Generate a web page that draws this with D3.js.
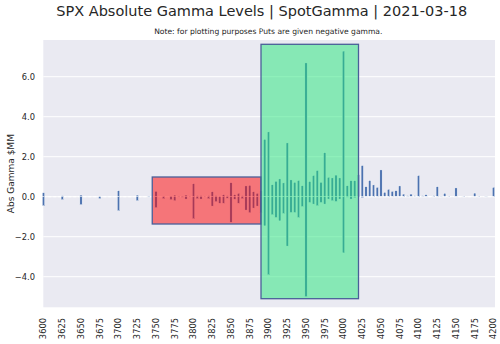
<!DOCTYPE html>
<html>
<head>
<meta charset="utf-8">
<script src="https://cdn.jsdelivr.net/npm/d3@7"></script>
<style>
  html, body { margin: 0; padding: 0; background: #ffffff; }
  svg { display: block; font-family: "DejaVu Sans", sans-serif; }
</style>
</head>
<body>
<svg id="chart" width="500" height="344"></svg>
<script>
// Strike prices and gamma per strike ($MM). Calls positive, puts negative.
const strikes = [
  3600, 3625, 3650, 3675, 3700, 3725, 3740, 3750, 3760, 3770, 3775, 3780, 3785, 3790, 3795,
  3800, 3805, 3810, 3815, 3820, 3825, 3830, 3835, 3840, 3845, 3850, 3855, 3860, 3865, 3870,
  3875, 3880, 3885, 3890, 3895, 3900, 3905, 3910, 3915, 3920, 3925, 3930, 3935, 3940, 3945,
  3950, 3955, 3960, 3965, 3970, 3975, 3980, 3985, 3990, 3995, 4000, 4005, 4010, 4015, 4020,
  4025, 4030, 4035, 4040, 4045, 4050, 4055, 4060, 4065, 4070, 4075, 4080, 4085, 4090, 4095,
  4100, 4105, 4110, 4120, 4125, 4130, 4135, 4140, 4150, 4160, 4175, 4180, 4190, 4200
];
const callGamma = [
  0.20, 0.05, 0.08, 0.02, 0.30, 0.08, 0.02, 0.27, 0.02, 0.03, 0.08, 0.02, 0.03, 0.08, 0.02,
  0.65, 0.05, 0.05, 0.02, 0.05, 0.25, 0.05, 0.02, 0.10, 0.05, 0.70, 0.10, 0.17, 0.05, 0.54,
  0.57, 0.25, 0.17, 0.30, 2.87, 3.24, 0.60, 0.77, 0.89, 0.69, 2.69, 0.84, 0.72, 0.81, 0.55,
  6.69, 0.76, 1.06, 1.31, 0.72, 2.20, 0.97, 0.94, 1.08, 0.94, 7.28, 0.55, 0.80, 0.80, 1.10,
  1.56, 0.50, 0.81, 0.59, 0.47, 1.34, 0.22, 0.37, 0.27, 0.30, 0.54, 0.13, 0.05, 0.13, 0.05,
  1.06, 0.05, 0.10, 0.05, 0.50, 0.03, 0.17, 0.03, 0.44, 0.03, 0.18, 0.03, 0.03, 0.47
];
const putGamma = [
  -0.45, -0.15, -0.40, -0.10, -0.70, -0.20, -0.02, -0.55, -0.10, -0.15, -0.20, -0.02, -0.03, -0.12, -0.02,
  -1.10, -0.10, -0.12, -0.02, -0.10, -0.47, -0.25, -0.33, -0.33, -0.08, -1.28, -0.13, -0.33, -0.10, -0.67,
  -0.80, -0.57, -0.47, -0.80, -1.46, -3.90, -0.90, -1.04, -1.21, -0.84, -2.47, -0.79, -0.79, -1.04, -0.49,
  -5.00, -0.29, -0.37, -0.45, -0.29, -0.37, -0.12, -0.20, -0.24, -0.12, -2.81, -0.03, -0.12, -0.05, -0.02,
  -0.05, -0.01, -0.01, -0.01, -0.01, -0.01, -0.01, -0.01, -0.01, -0.01, -0.01, -0.01, -0.01, -0.01, -0.01,
  -0.01, -0.01, -0.01, -0.01, -0.01, -0.01, -0.01, -0.01, -0.01, -0.01, -0.01, -0.01, -0.01, -0.01
];

// Shaded strike zones: [start strike, end strike, top, bottom]
const putZone = [3745, 3890, 0.985, -1.365];
const callZone = [3890, 4020, 7.62, -5.10];

const xTicks = d3.range(3600, 4201, 25);
const yTicks = [-4, -2, 0, 2, 4, 6];

const titleText = "SPX Absolute Gamma Levels | SpotGamma | 2021-03-18";
const noteText = "Note: for plotting purposes Puts are given negative gamma.";
const yLabel = "Abs Gamma $MM";

const plot = { left: 43.3, right: 495, top: 40, bottom: 307.3 };

const svg = d3.select("#chart");

const x = d3.scaleLinear().domain([3600, 4200]).range([43.5, 493.5]);
const y = d3.scaleLinear().domain([0, 6]).range([196.7, 76.7]);
const barW = 2.3;
const textColor = "#262626";

// Plot background
svg.append("rect")
  .attr("x", plot.left).attr("y", plot.top)
  .attr("width", plot.right - plot.left).attr("height", plot.bottom - plot.top)
  .attr("fill", "#eaeaf2");

// Horizontal grid
svg.append("g").selectAll("line").data(yTicks).join("line")
  .attr("x1", plot.left).attr("x2", plot.right)
  .attr("y1", d => y(d)).attr("y2", d => y(d))
  .attr("stroke", "#ffffff").attr("stroke-width", 1);

// Zero reference line
svg.append("line")
  .attr("x1", plot.left).attr("x2", plot.right)
  .attr("y1", y(0)).attr("y2", y(0))
  .attr("stroke", "#ffffff").attr("stroke-width", 1.2)
  .attr("stroke-dasharray", "3,2");

const rows = strikes.map((s, i) => ({ s, c: callGamma[i], p: putGamma[i] }));

// Call bars (positive) and put bars (negative)
const bars = svg.append("g");
bars.selectAll("rect.call").data(rows).join("rect")
  .attr("class", "call")
  .attr("x", d => x(d.s) - barW / 2).attr("width", barW)
  .attr("y", d => y(d.c)).attr("height", d => y(0) - y(d.c))
  .attr("fill", "#4c72b0").attr("stroke", "#ffffff").attr("stroke-width", 0.4);
bars.selectAll("rect.put").data(rows).join("rect")
  .attr("class", "put")
  .attr("x", d => x(d.s) - barW / 2).attr("width", barW)
  .attr("y", y(0)).attr("height", d => y(d.p) - y(0))
  .attr("fill", "#4c72b0").attr("stroke", "#ffffff").attr("stroke-width", 0.4);

// Zones
function zone(z, fill) {
  svg.append("rect")
    .attr("x", x(z[0])).attr("y", y(z[2]))
    .attr("width", x(z[1]) - x(z[0])).attr("height", y(z[3]) - y(z[2]))
    .attr("fill", fill).attr("fill-opacity", 0.5)
    .attr("stroke", "#4a5f98").attr("stroke-width", 1.3);
}
zone(putZone, "#ff0000");
zone(callZone, "#22e678");

// Y axis labels
svg.append("g").selectAll("text").data(yTicks).join("text")
  .attr("x", 35).attr("y", d => y(d)).attr("dy", "0.36em")
  .attr("text-anchor", "end").attr("font-size", 8.3).attr("fill", textColor)
  .text(d => d3.format(".1f")(d));

// X axis labels (rotated)
svg.append("g").selectAll("text").data(xTicks).join("text")
  .attr("transform", d => `translate(${x(d)},318) rotate(-90)`)
  .attr("dy", "0.35em")
  .attr("text-anchor", "end").attr("font-size", 8.3).attr("fill", textColor)
  .text(d => d);

// Y axis title
svg.append("text")
  .attr("transform", `translate(11,${(plot.top + plot.bottom) / 2}) rotate(-90)`)
  .attr("dy", "0.35em")
  .attr("text-anchor", "middle").attr("font-size", 9).attr("fill", textColor)
  .text(yLabel);

// Titles
svg.append("text")
  .attr("x", 261.7).attr("y", 16)
  .attr("text-anchor", "middle").attr("font-size", 14.5).attr("fill", textColor)
  .text(titleText);
svg.append("text")
  .attr("x", 268.3).attr("y", 33.5)
  .attr("text-anchor", "middle").attr("font-size", 7.6).attr("fill", textColor)
  .text(noteText);
</script>
</body>
</html>
